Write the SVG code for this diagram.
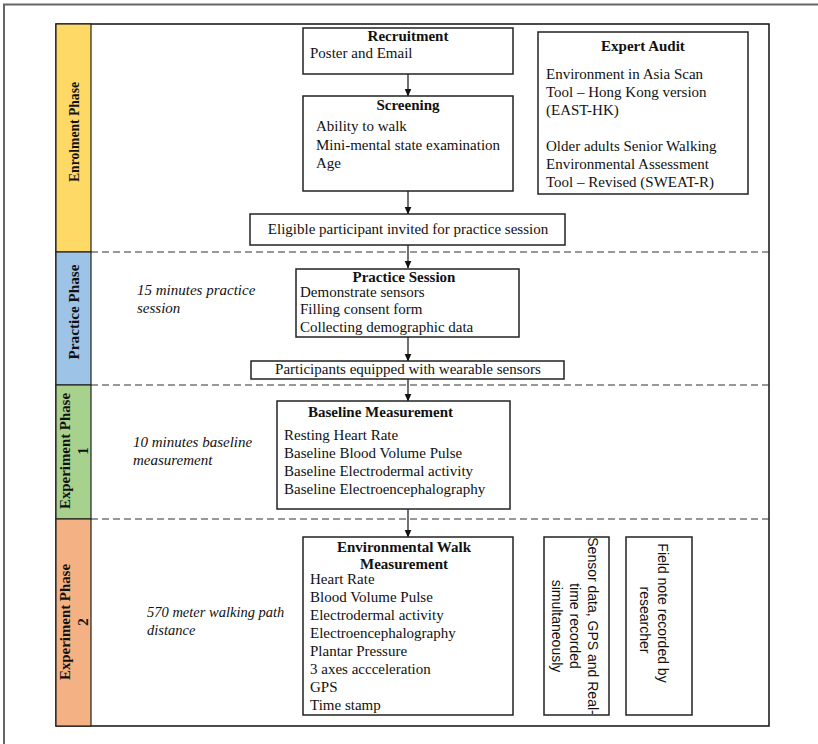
<svg xmlns="http://www.w3.org/2000/svg" width="818" height="744" viewBox="0 0 818 744">
<defs>
<marker id="ah" markerWidth="8" markerHeight="9" refX="7.5" refY="4" orient="auto" markerUnits="userSpaceOnUse">
<path d="M0,0.5 L8,4 L0,7.5 Z" fill="#111"/>
</marker>
<style>
text{font-family:"Liberation Serif","Times New Roman",serif;font-size:15px;fill:#111}
.b{font-weight:bold}
.i{font-style:italic}
.c{text-anchor:middle}
.s{font-family:"Liberation Sans",Arial,sans-serif;font-size:14px}
.box{fill:#fff;stroke:#222;stroke-width:1.5}
.dash{stroke:#333;stroke-width:1.2;stroke-dasharray:7 4;fill:none}
.con{stroke:#111;stroke-width:1.2;fill:none;marker-end:url(#ah)}
.lbl{font-weight:bold;font-size:15px}
</style>
</defs>
<rect width="818" height="744" fill="#fff"/>
<path d="M4,744 V4.5 H818" fill="none" stroke="#666" stroke-width="2"/>

<g id="frame">
<rect x="56" y="24" width="713" height="702" fill="#fff" stroke="#111" stroke-width="1.5"/>
<rect x="56" y="24" width="35" height="228" fill="#FFD966" stroke="#222" stroke-width="1.2"/>
<rect x="56" y="252" width="35" height="133" fill="#9DC3E6" stroke="#222" stroke-width="1.2"/>
<rect x="56" y="385" width="35" height="134" fill="#A9D18E" stroke="#222" stroke-width="1.2"/>
<rect x="56" y="519" width="35" height="207" fill="#F4B183" stroke="#222" stroke-width="1.2"/>
<line class="dash" x1="91" y1="252" x2="769" y2="252"/>
<line class="dash" x1="91" y1="385" x2="769" y2="385"/>
<line class="dash" x1="91" y1="519" x2="769" y2="519"/>
</g>

<g id="phase-labels">
<text class="lbl c" transform="translate(79,132) rotate(-90)" textLength="100" lengthAdjust="spacingAndGlyphs">Enrolment Phase</text>
<text class="lbl c" transform="translate(79,312) rotate(-90)" textLength="95" lengthAdjust="spacingAndGlyphs">Practice Phase</text>
<text class="lbl c" transform="translate(70,451) rotate(-90)" textLength="116" lengthAdjust="spacingAndGlyphs">Experiment Phase</text>
<text class="lbl c" transform="translate(88,451) rotate(-90)">1</text>
<text class="lbl c" transform="translate(70,622) rotate(-90)" textLength="116" lengthAdjust="spacingAndGlyphs">Experiment Phase</text>
<text class="lbl c" transform="translate(88,622) rotate(-90)">2</text>
</g>

<g id="notes">
<text class="i" x="137" y="295">15 minutes practice</text>
<text class="i" x="137" y="313">session</text>
<text class="i" x="133" y="447">10 minutes baseline</text>
<text class="i" x="133" y="465">measurement</text>
<text class="i" x="147" y="617" style="font-size:14.5px">570 meter walking path</text>
<text class="i" x="147" y="635" style="font-size:14.5px">distance</text>
</g>

<g id="connectors">
<line class="con" x1="408" y1="74" x2="408" y2="96"/>
<line class="con" x1="408" y1="191" x2="408" y2="214"/>
<line class="con" x1="408" y1="245" x2="408" y2="268"/>
<line class="con" x1="408" y1="337" x2="408" y2="361"/>
<line class="con" x1="408" y1="379" x2="408" y2="401"/>
<line class="con" x1="408" y1="509" x2="408" y2="537"/>
</g>

<g id="recruitment">
<rect class="box" x="303" y="28" width="210" height="46"/>
<text class="b c" x="408" y="41">Recruitment</text>
<text x="310" y="58">Poster and Email</text>
</g>

<g id="screening">
<rect class="box" x="303" y="96" width="210" height="95"/>
<text class="b c" x="408" y="110">Screening</text>
<text x="316" y="131">Ability to walk</text>
<text x="316" y="150">Mini-mental state examination</text>
<text x="316" y="168">Age</text>
</g>

<g id="expert-audit">
<rect class="box" x="538" y="32" width="210" height="162"/>
<text class="b c" x="643" y="51">Expert Audit</text>
<text x="546" y="79">Environment in Asia Scan</text>
<text x="546" y="97">Tool – Hong Kong version</text>
<text x="546" y="115">(EAST-HK)</text>
<text x="546" y="151">Older adults Senior Walking</text>
<text x="546" y="169">Environmental Assessment</text>
<text x="546" y="187">Tool – Revised (SWEAT-R)</text>
</g>

<g id="eligible">
<rect class="box" x="250" y="214" width="315" height="31"/>
<text class="c" x="408" y="234">Eligible participant invited for practice session</text>
</g>

<g id="practice-session">
<rect class="box" x="296" y="269" width="223" height="68"/>
<text class="b c" x="404" y="282">Practice Session</text>
<text x="300" y="296.5">Demonstrate sensors</text>
<text x="300" y="314">Filling consent form</text>
<text x="300" y="331.5">Collecting demographic data</text>
</g>

<g id="equipped">
<rect class="box" x="251" y="361" width="313" height="18"/>
<text class="c" x="408" y="374">Participants equipped with wearable sensors</text>
</g>

<g id="baseline">
<rect class="box" x="277" y="401" width="233" height="108"/>
<text class="b" x="308" y="417">Baseline Measurement</text>
<text x="284" y="440">Resting Heart Rate</text>
<text x="284" y="458">Baseline Blood Volume Pulse</text>
<text x="284" y="476">Baseline Electrodermal activity</text>
<text x="284" y="494">Baseline Electroencephalography</text>
</g>

<g id="environmental-walk">
<rect class="box" x="303" y="537" width="210" height="178"/>
<text class="b c" x="404" y="552">Environmental Walk</text>
<text class="b c" x="404" y="569">Measurement</text>
<text x="310" y="584">Heart Rate</text>
<text x="310" y="602">Blood Volume Pulse</text>
<text x="310" y="620">Electrodermal activity</text>
<text x="310" y="638">Electroencephalography</text>
<text x="310" y="656">Plantar Pressure</text>
<text x="310" y="674">3 axes accceleration</text>
<text x="310" y="692">GPS</text>
<text x="310" y="710">Time stamp</text>
</g>

<g id="sensor-data">
<rect class="box" x="544" y="537" width="65" height="178"/>
<text class="s c" transform="translate(588,626) rotate(90)">Sensor data, GPS and Real-</text>
<text class="s c" transform="translate(570,626) rotate(90)">time recorded</text>
<text class="s c" transform="translate(552,626) rotate(90)">simultaneously</text>
</g>

<g id="field-note">
<rect class="box" x="626" y="537" width="66" height="178"/>
<text class="s c" transform="translate(658,613) rotate(90)">Field note recorded by</text>
<text class="s c" transform="translate(640,620) rotate(90)">researcher</text>
</g>
</svg>
